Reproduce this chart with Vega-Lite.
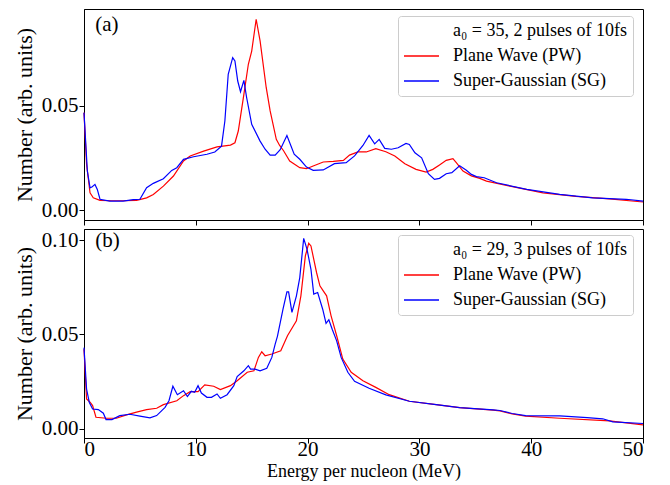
{
  "$schema": "https://vega.github.io/schema/vega-lite/v6.json",
  "padding": {"left": 12, "top": 8, "right": 5, "bottom": 5},
  "background": "white",
  "spacing": 2,
  "config": {
    "font": "Liberation Serif",
    "view": {"stroke": "black", "strokeWidth": 1},
    "axis": {
      "grid": false, "domainColor": "black", "domainWidth": 1, "tickColor": "black", "tickWidth": 1,
      "labelColor": "black", "titleColor": "black", "labelFont": "Liberation Serif", "titleFont": "Liberation Serif",
      "labelFontSize": 21, "titleFontSize": 22, "titleFontWeight": "normal", "tickSize": 5, "labelPadding": 1, "titlePadding": 5
    },
    "legend": {
      "orient": "none", "title": null, "labelFont": "Liberation Serif", "labelFontSize": 18, "labelColor": "black",
      "symbolType": "M-1.8,0H5.2", "symbolSize": 100, "symbolStrokeWidth": 1.5, "labelOffset": 31, "rowPadding": 7,
      "padding": 6, "fillColor": "rgba(255,255,255,0.85)", "strokeColor": "#cccccc", "cornerRadius": 3, "labelLimit": 300
    }
  },
  "datasets": {
    "a": [
      {"s":"PW","e":0,"n":0.0467},{"s":"PW","e":0.23,"n":0.022},{"s":"PW","e":0.54,"n":0.0084},{"s":"PW","e":0.83,"n":0.006},{"s":"PW","e":1.43,"n":0.0048},{"s":"PW","e":2.5,"n":0.0046},{"s":"PW","e":3.5,"n":0.0046},{"s":"PW","e":4.7,"n":0.0048},{"s":"PW","e":5.6,"n":0.006},{"s":"PW","e":6.2,"n":0.0076},{"s":"PW","e":7.1,"n":0.0116},{"s":"PW","e":8.0,"n":0.0164},{"s":"PW","e":8.9,"n":0.0236},{"s":"PW","e":9.5,"n":0.026},{"s":"PW","e":10.7,"n":0.0283},{"s":"PW","e":11.9,"n":0.0303},{"s":"PW","e":13.1,"n":0.0312},{"s":"PW","e":13.5,"n":0.0323},{"s":"PW","e":13.8,"n":0.0379},{"s":"PW","e":14.3,"n":0.0554},{"s":"PW","e":14.7,"n":0.0698},{"s":"PW","e":15.0,"n":0.0761},{"s":"PW","e":15.4,"n":0.0913},{"s":"PW","e":15.75,"n":0.081},{"s":"PW","e":16.3,"n":0.0586},{"s":"PW","e":16.65,"n":0.0475},{"s":"PW","e":17.2,"n":0.0339},{"s":"PW","e":17.5,"n":0.031},{"s":"PW","e":17.85,"n":0.0285},{"s":"PW","e":18.4,"n":0.0236},{"s":"PW","e":19.3,"n":0.0204},{"s":"PW","e":19.9,"n":0.0199},{"s":"PW","e":20.5,"n":0.0212},{"s":"PW","e":21.4,"n":0.0231},{"s":"PW","e":22.3,"n":0.0234},{"s":"PW","e":23.2,"n":0.0239},{"s":"PW","e":23.75,"n":0.0264},{"s":"PW","e":24.5,"n":0.0279},{"s":"PW","e":25.25,"n":0.0279},{"s":"PW","e":26.1,"n":0.0295},{"s":"PW","e":27.0,"n":0.028},{"s":"PW","e":27.8,"n":0.026},{"s":"PW","e":28.7,"n":0.0223},{"s":"PW","e":29.7,"n":0.0196},{"s":"PW","e":30.6,"n":0.0183},{"s":"PW","e":31.2,"n":0.0196},{"s":"PW","e":31.8,"n":0.0217},{"s":"PW","e":32.4,"n":0.0239},{"s":"PW","e":33.0,"n":0.0247},{"s":"PW","e":33.3,"n":0.0228},{"s":"PW","e":33.9,"n":0.0188},{"s":"PW","e":34.65,"n":0.0165},{"s":"PW","e":35.4,"n":0.0153},{"s":"PW","e":36.0,"n":0.014},{"s":"PW","e":38.1,"n":0.0116},{"s":"PW","e":41.05,"n":0.0084},{"s":"PW","e":44.0,"n":0.0067},{"s":"PW","e":47.0,"n":0.0055},{"s":"PW","e":50,"n":0.004},
      {"s":"SG","e":0,"n":0.0467},{"s":"SG","e":0.3,"n":0.0188},{"s":"SG","e":0.54,"n":0.0108},{"s":"SG","e":0.74,"n":0.0113},{"s":"SG","e":0.98,"n":0.0124},{"s":"SG","e":1.19,"n":0.01},{"s":"SG","e":1.43,"n":0.0053},{"s":"SG","e":2.3,"n":0.0044},{"s":"SG","e":3.5,"n":0.0044},{"s":"SG","e":4.4,"n":0.0051},{"s":"SG","e":5.0,"n":0.0053},{"s":"SG","e":5.6,"n":0.0108},{"s":"SG","e":6.2,"n":0.0129},{"s":"SG","e":7.1,"n":0.0151},{"s":"SG","e":7.85,"n":0.0191},{"s":"SG","e":8.3,"n":0.0204},{"s":"SG","e":8.9,"n":0.0244},{"s":"SG","e":9.8,"n":0.0256},{"s":"SG","e":11.0,"n":0.0268},{"s":"SG","e":11.7,"n":0.0279},{"s":"SG","e":12.3,"n":0.0307},{"s":"SG","e":12.6,"n":0.0427},{"s":"SG","e":12.9,"n":0.065},{"s":"SG","e":13.3,"n":0.073},{"s":"SG","e":13.5,"n":0.0714},{"s":"SG","e":13.75,"n":0.0618},{"s":"SG","e":14.0,"n":0.0567},{"s":"SG","e":14.3,"n":0.0621},{"s":"SG","e":14.55,"n":0.0538},{"s":"SG","e":15.0,"n":0.0411},{"s":"SG","e":15.75,"n":0.0331},{"s":"SG","e":16.2,"n":0.0292},{"s":"SG","e":16.65,"n":0.0264},{"s":"SG","e":17.1,"n":0.0264},{"s":"SG","e":17.55,"n":0.029},{"s":"SG","e":18.15,"n":0.0358},{"s":"SG","e":18.8,"n":0.0268},{"s":"SG","e":19.3,"n":0.0244},{"s":"SG","e":19.9,"n":0.0207},{"s":"SG","e":20.5,"n":0.0191},{"s":"SG","e":21.4,"n":0.0193},{"s":"SG","e":22.4,"n":0.0223},{"s":"SG","e":23.45,"n":0.0228},{"s":"SG","e":24.2,"n":0.026},{"s":"SG","e":24.95,"n":0.031},{"s":"SG","e":25.5,"n":0.0358},{"s":"SG","e":26.0,"n":0.0318},{"s":"SG","e":26.4,"n":0.0339},{"s":"SG","e":26.9,"n":0.0296},{"s":"SG","e":27.5,"n":0.0292},{"s":"SG","e":28.1,"n":0.0299},{"s":"SG","e":28.8,"n":0.032},{"s":"SG","e":29.1,"n":0.0315},{"s":"SG","e":29.6,"n":0.0275},{"s":"SG","e":30.2,"n":0.0251},{"s":"SG","e":30.8,"n":0.0175},{"s":"SG","e":31.35,"n":0.0148},{"s":"SG","e":31.8,"n":0.0153},{"s":"SG","e":32.4,"n":0.0175},{"s":"SG","e":32.9,"n":0.018},{"s":"SG","e":33.6,"n":0.0213},{"s":"SG","e":34.2,"n":0.0192},{"s":"SG","e":34.65,"n":0.0172},{"s":"SG","e":35.1,"n":0.0161},{"s":"SG","e":35.8,"n":0.0156},{"s":"SG","e":36.9,"n":0.0132},{"s":"SG","e":39.6,"n":0.01},{"s":"SG","e":42.55,"n":0.0076},{"s":"SG","e":45.5,"n":0.006},{"s":"SG","e":48.5,"n":0.0053},{"s":"SG","e":50,"n":0.0044}
    ],
    "b": [
      {"s":"PW","e":0,"n":0.0422},{"s":"PW","e":0.23,"n":0.0157},{"s":"PW","e":0.54,"n":0.014},{"s":"PW","e":0.77,"n":0.0122},{"s":"PW","e":1.07,"n":0.006},{"s":"PW","e":2.0,"n":0.0055},{"s":"PW","e":2.9,"n":0.0055},{"s":"PW","e":3.8,"n":0.0073},{"s":"PW","e":4.7,"n":0.0087},{"s":"PW","e":5.6,"n":0.0101},{"s":"PW","e":6.5,"n":0.0108},{"s":"PW","e":7.1,"n":0.0127},{"s":"PW","e":8.3,"n":0.0148},{"s":"PW","e":8.9,"n":0.0175},{"s":"PW","e":9.5,"n":0.0196},{"s":"PW","e":10.2,"n":0.0196},{"s":"PW","e":10.8,"n":0.0232},{"s":"PW","e":11.6,"n":0.0225},{"s":"PW","e":12.2,"n":0.0207},{"s":"PW","e":13.1,"n":0.0228},{"s":"PW","e":13.7,"n":0.0254},{"s":"PW","e":14.6,"n":0.0299},{"s":"PW","e":15.2,"n":0.0307},{"s":"PW","e":15.6,"n":0.0378},{"s":"PW","e":15.9,"n":0.0408},{"s":"PW","e":16.2,"n":0.0387},{"s":"PW","e":16.8,"n":0.0396},{"s":"PW","e":17.6,"n":0.0413},{"s":"PW","e":18.2,"n":0.0493},{"s":"PW","e":19.0,"n":0.0572},{"s":"PW","e":19.4,"n":0.0705},{"s":"PW","e":19.8,"n":0.0917},{"s":"PW","e":20.1,"n":0.0984},{"s":"PW","e":20.3,"n":0.097},{"s":"PW","e":20.8,"n":0.0829},{"s":"PW","e":21.1,"n":0.0758},{"s":"PW","e":21.4,"n":0.0731},{"s":"PW","e":21.7,"n":0.0705},{"s":"PW","e":22.1,"n":0.0599},{"s":"PW","e":22.6,"n":0.0493},{"s":"PW","e":23.15,"n":0.0369},{"s":"PW","e":23.9,"n":0.0299},{"s":"PW","e":24.95,"n":0.0254},{"s":"PW","e":26.1,"n":0.0219},{"s":"PW","e":27.3,"n":0.018},{"s":"PW","e":29.1,"n":0.0145},{"s":"PW","e":31.5,"n":0.0127},{"s":"PW","e":33.6,"n":0.0111},{"s":"PW","e":36.6,"n":0.0098},{"s":"PW","e":37.2,"n":0.0094},{"s":"PW","e":38.3,"n":0.0078},{"s":"PW","e":39.5,"n":0.0066},{"s":"PW","e":42.55,"n":0.0055},{"s":"PW","e":47.0,"n":0.0041},{"s":"PW","e":50,"n":0.002},
      {"s":"SG","e":0,"n":0.043},{"s":"SG","e":0.23,"n":0.021},{"s":"SG","e":0.47,"n":0.014},{"s":"SG","e":0.77,"n":0.0104},{"s":"SG","e":1.28,"n":0.0101},{"s":"SG","e":1.73,"n":0.0082},{"s":"SG","e":1.97,"n":0.0048},{"s":"SG","e":2.5,"n":0.0048},{"s":"SG","e":3.2,"n":0.0069},{"s":"SG","e":4.1,"n":0.0076},{"s":"SG","e":5.0,"n":0.0066},{"s":"SG","e":5.9,"n":0.0057},{"s":"SG","e":6.5,"n":0.0069},{"s":"SG","e":7.25,"n":0.0113},{"s":"SG","e":7.6,"n":0.0148},{"s":"SG","e":7.95,"n":0.0225},{"s":"SG","e":8.35,"n":0.018},{"s":"SG","e":8.9,"n":0.0201},{"s":"SG","e":9.25,"n":0.017},{"s":"SG","e":9.6,"n":0.0198},{"s":"SG","e":9.9,"n":0.0193},{"s":"SG","e":10.2,"n":0.0228},{"s":"SG","e":10.5,"n":0.0189},{"s":"SG","e":11.0,"n":0.0166},{"s":"SG","e":11.4,"n":0.0166},{"s":"SG","e":11.9,"n":0.0184},{"s":"SG","e":12.2,"n":0.0161},{"s":"SG","e":12.8,"n":0.018},{"s":"SG","e":13.4,"n":0.0228},{"s":"SG","e":13.7,"n":0.0276},{"s":"SG","e":14.3,"n":0.0307},{"s":"SG","e":14.7,"n":0.0334},{"s":"SG","e":14.9,"n":0.0316},{"s":"SG","e":15.3,"n":0.0316},{"s":"SG","e":15.75,"n":0.0307},{"s":"SG","e":16.35,"n":0.032},{"s":"SG","e":16.8,"n":0.0378},{"s":"SG","e":17.1,"n":0.0449},{"s":"SG","e":17.3,"n":0.049},{"s":"SG","e":17.8,"n":0.0634},{"s":"SG","e":18.15,"n":0.0726},{"s":"SG","e":18.3,"n":0.0726},{"s":"SG","e":18.6,"n":0.0617},{"s":"SG","e":19.0,"n":0.0705},{"s":"SG","e":19.3,"n":0.0802},{"s":"SG","e":19.65,"n":0.101},{"s":"SG","e":19.95,"n":0.0952},{"s":"SG","e":20.3,"n":0.0846},{"s":"SG","e":20.55,"n":0.0714},{"s":"SG","e":20.9,"n":0.0723},{"s":"SG","e":21.35,"n":0.0634},{"s":"SG","e":21.65,"n":0.0559},{"s":"SG","e":21.9,"n":0.0578},{"s":"SG","e":22.2,"n":0.0528},{"s":"SG","e":22.6,"n":0.0466},{"s":"SG","e":23.0,"n":0.0378},{"s":"SG","e":23.6,"n":0.0299},{"s":"SG","e":24.2,"n":0.0251},{"s":"SG","e":25.5,"n":0.0214},{"s":"SG","e":27.0,"n":0.0179},{"s":"SG","e":29.1,"n":0.0145},{"s":"SG","e":31.5,"n":0.0127},{"s":"SG","e":33.6,"n":0.0111},{"s":"SG","e":36.6,"n":0.0099},{"s":"SG","e":37.2,"n":0.0096},{"s":"SG","e":38.3,"n":0.008},{"s":"SG","e":39.5,"n":0.0069},{"s":"SG","e":42.55,"n":0.0067},{"s":"SG","e":45.0,"n":0.0058},{"s":"SG","e":46.4,"n":0.0052},{"s":"SG","e":47.3,"n":0.0036},{"s":"SG","e":50,"n":0.0027}
    ]
  },
  "vconcat": [
    {
      "width": 559, "height": 211,
      "layer": [
        {
          "data": {"name": "a"},
          "mark": {"type": "line", "strokeWidth": 1.2},
          "encoding": {
            "x": {"field": "e", "type": "quantitative", "scale": {"domain": [0, 50], "nice": false, "zero": false},
                  "axis": {"values": [0, 10, 20, 30, 40, 50], "labels": false, "title": null}},
            "y": {"field": "n", "type": "quantitative", "scale": {"domain": [-0.0046, 0.0962], "nice": false, "zero": false},
                  "axis": {"values": [0, 0.05], "format": ".2f", "title": "Number (arb. units)"}},
            "color": {"field": "s", "type": "nominal",
                      "scale": {"domain": ["a₀ = 35, 2 pulses of 10fs", "PW", "SG"], "range": ["rgba(0,0,0,0)", "#ff0000", "#0000ff"]},
                      "legend": {"legendX": 314, "legendY": 7,
                                 "labelExpr": "datum.label == 'PW' ? 'Plane Wave (PW)' : datum.label == 'SG' ? 'Super-Gaussian (SG)' : datum.label"}}
          }
        },
        {
          "data": {"values": [{"t": "(a)"}]},
          "mark": {"type": "text", "align": "left", "baseline": "middle", "fontSize": 21, "font": "Liberation Serif", "color": "black"},
          "encoding": {
            "x": {"datum": 1.0, "type": "quantitative"},
            "y": {"datum": 0.0886, "type": "quantitative"},
            "text": {"field": "t"}
          }
        }
      ]
    },
    {
      "width": 559, "height": 209,
      "layer": [
        {
          "data": {"name": "b"},
          "mark": {"type": "line", "strokeWidth": 1.2},
          "encoding": {
            "x": {"field": "e", "type": "quantitative", "scale": {"domain": [0, 50], "nice": false, "zero": false},
                  "axis": {"values": [0, 10, 20, 30, 40, 50], "title": "Energy per nucleon (MeV)", "titleFontSize": 18, "labelPadding": -5, "titlePadding": 3}},
            "y": {"field": "n", "type": "quantitative", "scale": {"domain": [-0.005, 0.106], "nice": false, "zero": false},
                  "axis": {"values": [0, 0.05, 0.1], "format": ".2f", "title": "Number (arb. units)"}},
            "color": {"field": "s", "type": "nominal",
                      "scale": {"domain": ["a₀ = 29, 3 pulses of 10fs", "PW", "SG"], "range": ["rgba(0,0,0,0)", "#ff0000", "#0000ff"]},
                      "legend": {"legendX": 314, "legendY": 6,
                                 "labelExpr": "datum.label == 'PW' ? 'Plane Wave (PW)' : datum.label == 'SG' ? 'Super-Gaussian (SG)' : datum.label"}}
          }
        },
        {
          "data": {"values": [{"t": "(b)"}]},
          "mark": {"type": "text", "align": "left", "baseline": "middle", "fontSize": 21, "font": "Liberation Serif", "color": "black"},
          "encoding": {
            "x": {"datum": 1.0, "type": "quantitative"},
            "y": {"datum": 0.0996, "type": "quantitative"},
            "text": {"field": "t"}
          }
        }
      ]
    }
  ],
  "resolve": {"scale": {"color": "independent"}, "legend": {"color": "independent"}}
}
